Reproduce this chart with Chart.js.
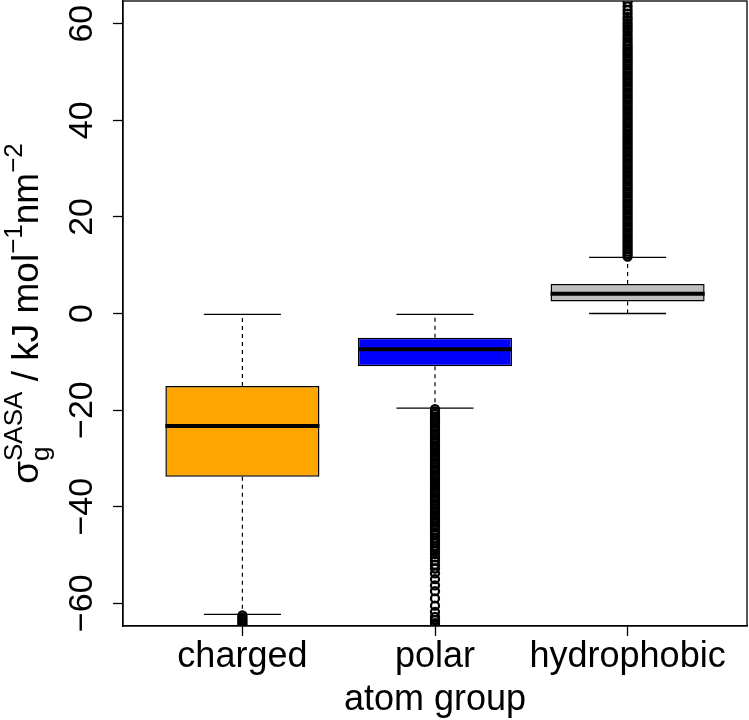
<!DOCTYPE html>
<html>
<head>
<meta charset="utf-8">
<script src="https://cdn.jsdelivr.net/npm/chart.js@4.4.0/dist/chart.umd.min.js"></script>
<style>
  body { margin: 0; background: #fff; }
  canvas { display: block; }
</style>
</head>
<body>
<canvas id="chart" width="749" height="720"></canvas>
<script>
// box statistics
const categories = ['charged', 'polar', 'hydrophobic'];
const boxColors = ['#FFA500', '#0000FF', '#BEBEBE'];
const lowerQuartiles = [-33.8, -10.9, 2.5];
const upperQuartiles = [-15.0, -5.0, 6.1];
const medians = [-23.3, -7.4, 4.1];
const lowerWhiskers = [-62.3, -19.6, 0.0];
const upperWhiskers = [-0.2, -0.2, 11.6];

// outliers (dense runs listed at roughly the spacing that makes them look solid)
const outliersCharged = [-62.5, -62.9, -63.3, -63.7, -64.1, -64.5];
const outliersPolar = [
    -19.8, -20.3, -20.8, -21.3, -21.8, -22.3, -22.8, -23.3, -23.8, -24.3,
    -24.8, -25.3, -25.8, -26.3, -26.8, -27.3, -27.8, -28.3, -28.8, -29.3,
    -29.8, -30.3, -30.8, -31.3, -31.8, -32.3, -32.8, -33.3, -33.8, -34.3,
    -34.8, -35.3, -35.8, -36.3, -36.8, -37.3, -37.8, -38.3, -38.8, -39.3,
    -39.8, -40.3, -40.8, -41.3, -41.8, -42.3, -42.8, -43.3, -43.8, -44.3,
    -44.8, -45.3, -45.8,
    -46.4, -47.0, -47.5, -48.1, -48.6, -49.2, -49.8, -50.5, -51.2, -52.0,
    -52.8, -53.8, -55.0, -56.3, -57.5, -59.0, -60.5, -61.8, -62.8, -63.5,
    -64.1, -64.6
];
const outliersHydrophobic = [
    11.8, 12.3, 12.8, 13.3, 13.8, 14.3, 14.8, 15.3, 15.8, 16.3,
    16.8, 17.3, 17.8, 18.3, 18.8, 19.3, 19.8, 20.3, 20.8, 21.3,
    21.8, 22.3, 22.8, 23.3, 23.8, 24.3, 24.8, 25.3, 25.8, 26.3,
    26.8, 27.3, 27.8, 28.3, 28.8, 29.3, 29.8, 30.3, 30.8, 31.3,
    31.8, 32.3, 32.8, 33.3, 33.8, 34.3, 34.8, 35.3, 35.8, 36.3,
    36.8, 37.3, 37.8, 38.3, 38.8, 39.3, 39.8, 40.3, 40.8, 41.3,
    41.8, 42.3, 42.8, 43.3, 43.8, 44.3, 44.8, 45.3, 45.8, 46.3,
    46.8, 47.3, 47.8, 48.3, 48.8, 49.3, 49.8, 50.3, 50.8, 51.3,
    51.8, 52.3, 52.8, 53.3, 53.8, 54.3, 54.8, 55.3, 55.8,
    56.4, 57.0, 57.6, 58.3, 58.9, 59.5, 60.1, 60.8, 61.4, 62.1,
    62.8, 63.6, 64.5
];
const yTicks = [-60, -40, -20, 0, 20, 40, 60];

const FONT = 'Liberation Sans';
const outlierLists = [outliersCharged, outliersPolar, outliersHydrophobic];

function seg(x1, y1, x2, y2) {
    return [{ x: x1, y: y1 }, { x: x2, y: y2 }];
}

const datasets = [];

// boxes as floating bars
datasets.push({
    type: 'bar',
    data: categories.map((c, i) => ({ x: i + 1, y: [lowerQuartiles[i], upperQuartiles[i]] })),
    backgroundColor: boxColors,
    borderColor: '#000',
    borderWidth: 1.5,
    borderSkipped: false,
    barPercentage: 1.0,
    categoryPercentage: 0.8,
    order: 5
});

categories.forEach((c, i) => {
    const x = i + 1;
    const lineBase = { type: 'line', borderColor: '#000', pointRadius: 0, fill: false, tension: 0 };
    // dashed whiskers
    datasets.push({ ...lineBase, data: seg(x, upperQuartiles[i], x, upperWhiskers[i]), borderWidth: 1.2, borderDash: [4, 4], order: 2 });
    datasets.push({ ...lineBase, data: seg(x, lowerQuartiles[i], x, lowerWhiskers[i]), borderWidth: 1.2, borderDash: [4, 4], order: 2 });
    // staples
    datasets.push({ ...lineBase, data: seg(x - 0.2, upperWhiskers[i], x + 0.2, upperWhiskers[i]), borderWidth: 1.3, order: 2 });
    datasets.push({ ...lineBase, data: seg(x - 0.2, lowerWhiskers[i], x + 0.2, lowerWhiskers[i]), borderWidth: 1.3, order: 2 });
    // median
    datasets.push({ ...lineBase, data: seg(x - 0.4, medians[i], x + 0.4, medians[i]), borderWidth: 4, order: 1 });
    // outliers
    datasets.push({
        type: 'scatter',
        data: outlierLists[i].map(v => ({ x: x, y: v })),
        pointRadius: 4.0,
        pointStyle: 'circle',
        borderColor: '#000',
        backgroundColor: 'rgba(0,0,0,0)',
        borderWidth: 2.3,
        order: 0
    });
});

const framePlugin = {
    id: 'frame',
    afterDraw(chart) {
        const { ctx, chartArea: a } = chart;
        ctx.save();
        ctx.strokeStyle = '#000';
        ctx.lineWidth = 1.3;
        ctx.strokeRect(a.left, a.top, a.right - a.left, a.bottom - a.top);
        ctx.restore();
    }
};

// y title with sub/superscripts
const yTitlePlugin = {
    id: 'yTitle',
    afterDraw(chart) {
        const ctx = chart.ctx;
        const a = chart.chartArea;
        const big = '37px "' + FONT + '"';
        const small = '26px "' + FONT + '"';
        const parts = [
            { text: 'σ', font: big, dy: 0 },
            { stack: [{ text: 'g', dy: 11 }, { text: 'SASA', dy: -16 }], font: small },
            { text: ' / kJ mol', font: big, dy: 0 },
            { text: '−1', font: small, dy: -16 },
            { text: 'nm', font: big, dy: 0 },
            { text: '−2', font: small, dy: -16 }
        ];
        ctx.save();
        let total = 0;
        parts.forEach(p => {
            ctx.font = p.font;
            if (p.stack) {
                p.w = Math.max(...p.stack.map(s => ctx.measureText(s.text).width));
            } else {
                p.w = ctx.measureText(p.text).width;
            }
            total += p.w;
        });
        ctx.translate(38, (a.top + a.bottom) / 2);
        ctx.rotate(-Math.PI / 2);
        ctx.fillStyle = '#000';
        ctx.textAlign = 'left';
        ctx.textBaseline = 'alphabetic';
        let x = -total / 2;
        parts.forEach(p => {
            ctx.font = p.font;
            if (p.stack) {
                p.stack.forEach(s => ctx.fillText(s.text, x, s.dy));
            } else {
                ctx.fillText(p.text, x, p.dy);
            }
            x += p.w;
        });
        ctx.restore();
    }
};

function noPad(axis) {
    axis.paddingTop = 0;
    axis.paddingBottom = 0;
    axis.paddingLeft = 0;
    axis.paddingRight = 0;
}

new Chart(document.getElementById('chart'), {
    type: 'bar',
    data: { datasets: datasets },
    options: {
        responsive: false,
        animation: false,
        layout: { autoPadding: false, padding: { top: 1, right: 2, left: 0, bottom: 0 } },
        plugins: { legend: { display: false }, tooltip: { enabled: false } },
        scales: {
            x: {
                type: 'linear',
                min: 0.38,
                max: 3.62,
                offset: false,
                afterBuildTicks: axis => { axis.ticks = categories.map((c, i) => ({ value: i + 1 })); },
                afterFit: axis => { axis.height = 94; noPad(axis); },
                grid: { display: true, offset: false, drawOnChartArea: false, drawTicks: true, tickLength: 10, tickColor: '#000', tickWidth: 1.3 },
                border: { display: true, color: '#000', width: 1.3 },
                ticks: {
                    color: '#000',
                    font: { family: FONT, size: 36 },
                    maxRotation: 0,
                    autoSkip: false,
                    padding: -1,
                    callback: v => categories[Math.round(v) - 1]
                },
                title: {
                    display: true,
                    text: 'atom group',
                    color: '#000',
                    font: { family: FONT, size: 36 },
                    padding: { top: 0, bottom: -2 }
                }
            },
            y: {
                min: -64.7,
                max: 64.7,
                afterBuildTicks: axis => { axis.ticks = yTicks.map(v => ({ value: v })); },
                afterFit: axis => { axis.width = 123; noPad(axis); },
                grid: { display: true, drawOnChartArea: false, drawTicks: true, tickLength: 10, tickColor: '#000', tickWidth: 1.3 },
                border: { display: true, color: '#000', width: 1.3 },
                ticks: {
                    color: '#000',
                    font: { family: FONT, size: 34 },
                    minRotation: 90,
                    maxRotation: 90,
                    crossAlign: 'center',
                    padding: 2,
                    callback: v => String(v).replace('-', '−')
                }
            }
        }
    },
    plugins: [framePlugin, yTitlePlugin]
});
</script>
</body>
</html>
